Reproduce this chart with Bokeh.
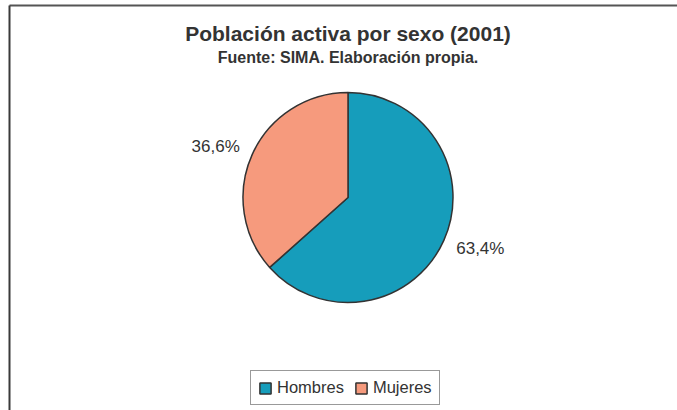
import numpy as np
from bokeh.plotting import figure
from bokeh.models import Legend, LegendItem, ColumnDataSource
from bokeh.core.properties import value
from bokeh.embed import file_html
from bokeh.resources import INLINE

# ---- data ----
categories = ["Hombres", "Mujeres"]
values = [63.4, 36.6]
labels = ["63,4%", "36,6%"]
colors = ["#169DBB", "#F69A7D"]
title_text = "Población activa por sexo (2001)"
subtitle_text = "Fuente: SIMA. Elaboración propia."

W, H = 677, 410
p = figure(width=W, height=H, x_range=(0, W), y_range=(0, H),
           output_backend="svg", toolbar_location=None,
           x_axis_type=None, y_axis_type=None, min_border=0,
           outline_line_color=None, background_fill_color="white",
           border_fill_color="white")
p.grid.visible = False

cx, cy, R = 347.5, 213, 105
vals = np.array(values, dtype=float)
frac = vals / vals.sum()
cum = np.cumsum(frac)
prev = np.concatenate([[0.0], cum[:-1]])
start = np.pi / 2 - 2 * np.pi * cum
end = np.pi / 2 - 2 * np.pi * prev
mid = (start + end) / 2
src = ColumnDataSource(dict(cat=categories, start=start, end=end, color=colors,
                            lx=cx + 145 * np.cos(mid), ly=cy + 125 * np.sin(mid),
                            lab=labels))

# chart area border (top and left visible in the crop)
p.segment(x0=[9, 9], y0=[405, 405], x1=[W, 9], y1=[405, 0],
          line_color=["#555555", "#3a3a3a"], line_width=2)

r = p.wedge(x=cx, y=cy, radius=R, start_angle="start", end_angle="end",
            fill_color="color", line_color="#333333", line_width=1.5, source=src)

p.text(x="lx", y="ly", text="lab", source=src, text_align="center",
       text_baseline="middle", text_font=value("Liberation Sans"),
       text_font_size="17px", text_color="#333333")

p.text(x=[cx], y=[377], text=[title_text], text_align="center", text_baseline="middle",
       text_font=value("Liberation Sans"), text_font_style="bold",
       text_font_size="21px", text_color="#333333")
p.text(x=[cx], y=[353], text=[subtitle_text], text_align="center", text_baseline="middle",
       text_font=value("Liberation Sans"), text_font_style="bold",
       text_font_size="16px", text_color="#333333")

legend = Legend(items=[LegendItem(label=c, renderers=[r], index=i) for i, c in enumerate(categories)],
                orientation="horizontal", location=(250, 5),
                label_text_font="Liberation Sans", label_text_font_size="16.5px",
                label_text_color="#333333", glyph_width=14, glyph_height=14,
                label_height=16, label_standoff=5, spacing=10, padding=7, margin=0,
                border_line_color="#333333", border_line_width=1,
                background_fill_color="white", background_fill_alpha=1)
p.add_layout(legend, "center")

open("out.html", "w").write(file_html(p, INLINE))
